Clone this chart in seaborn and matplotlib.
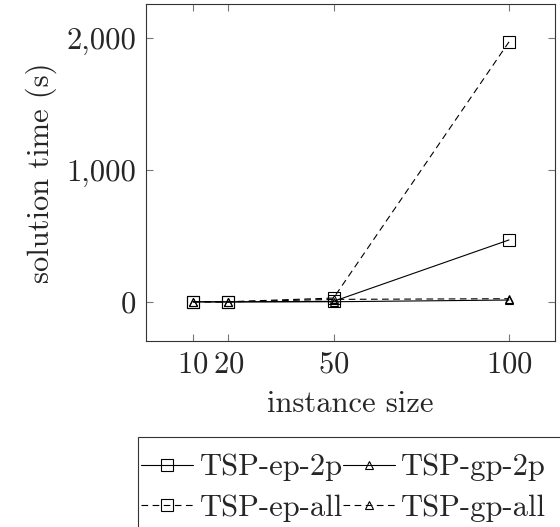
import numpy as np
import pandas as pd
import seaborn as sns
import matplotlib.pyplot as plt
from matplotlib.patches import Rectangle
from matplotlib.ticker import FuncFormatter

sns.set_style('ticks')
plt.rcParams['font.family'] = ['cmr10', 'DejaVu Serif']
plt.rcParams['axes.formatter.use_mathtext'] = True
plt.rcParams['mathtext.fontset'] = 'cm'

sizes = [10, 20, 50, 100]
ep_2p = [2, 1, 5, 470]
gp_2p = [1, 1, 2, 15]
ep_all = [3, 2, 30, 1970]
gp_all = [1, 1, 20, 25]

series = ['TSP-ep-2p', 'TSP-gp-2p', 'TSP-ep-all', 'TSP-gp-all']
values = [ep_2p, gp_2p, ep_all, gp_all]
markers = ['s', '^', 's', '^']
styles = ['-', '-', (0, (6, 4)), (0, (6, 4))]
msizes = [8, 6, 8, 6]

FS = 22

fig = plt.figure(figsize=(5.6, 5.27), dpi=100)
ax = fig.add_axes([0.261, 0.353, 0.730, 0.639])

for name, vals, mk, ls, ms in zip(series, values, markers, styles, msizes):
    df = pd.DataFrame({'size': sizes, 'time': vals})
    sns.lineplot(data=df, x='size', y='time', ax=ax, color='black', linewidth=0.8,
                 linestyle=ls, marker=mk, markersize=ms, markerfacecolor='none',
                 markeredgecolor='black', markeredgewidth=0.8, label=name)

ax.set_xlim(-3.4, 113.1)
ax.set_ylim(-295, 2255)
ax.set_xticks(sizes)
ax.set_yticks([0, 1000, 2000])
ax.yaxis.set_major_formatter(FuncFormatter(lambda v, p: f'{int(v):,}'))
ax.tick_params(direction='in', top=True, right=True, length=5, width=0.8,
               color='#777777', labelsize=FS, pad=7)
for s in ax.spines.values():
    s.set_color('#333333')
    s.set_linewidth(0.8)
ax.set_xlabel('instance size', fontsize=FS, labelpad=9)
ax.set_ylabel('solution time (s)', fontsize=FS, labelpad=7)

handles, labels = ax.get_legend_handles_labels()
ax.get_legend().remove()
# legend fills column-wise, reorder so rows read ep-2p, gp-2p / ep-all, gp-all
order = [0, 2, 1, 3]
leg = fig.legend([handles[i] for i in order], [labels[i] for i in order],
                 loc='upper left', bbox_to_anchor=(0.246, 0.146),
                 ncol=2, fontsize=FS, frameon=False, numpoints=1,
                 handlelength=1.7, handletextpad=0.2, columnspacing=0.0,
                 labelspacing=0.42, borderpad=0.12, borderaxespad=0)

# legend box runs off the bottom/right of the canvas in the original
fig.patches.append(Rectangle((0.246, -0.2), 1.0, 1 - 437 / 527 + 0.2,
                             transform=fig.transFigure, fill=False,
                             edgecolor='#333333', linewidth=0.8))

fig.savefig('out.png', dpi=100)
